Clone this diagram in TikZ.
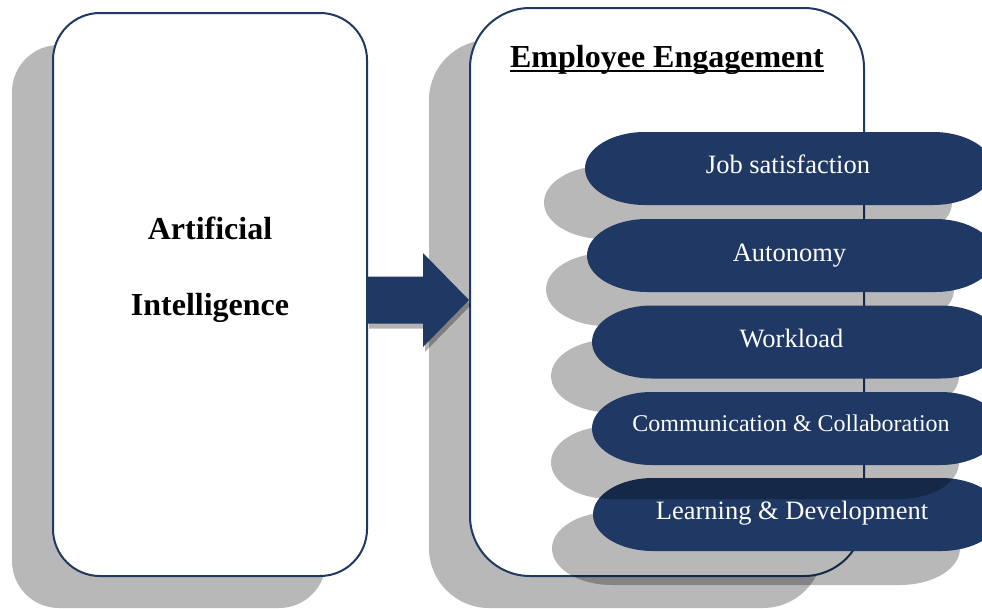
\documentclass[tikz,border=0pt]{standalone}
\usepackage{fontspec}
\setmainfont{Liberation Serif}
\usetikzlibrary{calc,shadows}

\definecolor{navy}{RGB}{31,56,100}
\definecolor{boxshade}{RGB}{184,184,184}

% pill outline with elliptical ends, continued from its left-middle point
\newcommand{\pillcurve}{arc[start angle=180,end angle=90,x radius=60pt,y radius=36.5pt]
  -- ++(288,0) arc[start angle=90,end angle=-90,x radius=60pt,y radius=36.5pt]
  -- ++(-288,0) arc[start angle=270,end angle=180,x radius=60pt,y radius=36.5pt] -- cycle}

% block arrow from the tail point to the tip point
\newcommand{\arrowpath}{(tail) ++(0,-23.5) -- ++(56,0) -- ++(0,-23.5) -- (tip)
  -- ($(tail)+(56,47)$) -- ++(0,-23.5) -- ($(tail)+(0,23.5)$) -- cycle}

\begin{document}
\begin{tikzpicture}[x=1pt,y=-1pt,
  boxstyle/.style={draw=navy, line width=2pt, fill=white, rounded corners=#1,
    outer sep=0pt, inner sep=0pt,
    drop shadow={shadow xshift=-41pt, shadow yshift=-32pt, fill=boxshade, opacity=1}},
  headtext/.style={font=\fontsize{32}{38}\selectfont\bfseries, inner sep=0pt, anchor=base},
  pillfill/.style={fill=navy},
  pillshade/.style={fill=black, fill opacity=0.28},
  pilltext/.style={font=\fontsize{26.5}{30}\selectfont, text=white, inner sep=0pt, anchor=base}]

\fill[white] (0,0) rectangle (982,608);
\useasboundingbox (0,0) rectangle (982,608);
\clip (0,0) rectangle (982,608);

% the two frames
\node[boxstyle=47pt, minimum width=314pt, minimum height=563pt] (ai) at (210,294.5) {};
\node[boxstyle=60pt, minimum width=394pt, minimum height=568pt] (ee) at (667,292) {};

\node[headtext] (ai1) at (210,239) {Artificial};
\node[headtext] (ai2) at (210,315) {Intelligence};
\node[headtext] (ttl) at (667,67) {Employee Engagement};
\draw[line width=2.5pt] ($(ttl.base west)+(0,4)$) -- ($(ttl.base east)+(0,4)$);

% block arrow between the frames
\coordinate (tail) at (ai.east |- 0,300);
\coordinate (tip) at ($(ee.west |- tail)+(-1,0)$);
\fill[black, fill opacity=0.3, transform canvas={xshift=2pt,yshift=-5pt}] \arrowpath;
\fill[navy] \arrowpath;

% engagement factors
\fill[pillshade] (544,202.5) \pillcurve;
\fill[pillfill] (585,168.5) \pillcurve;
\node[pilltext] (p1) at (788,173) {Job satisfaction};

\fill[pillshade] (546,289.5) \pillcurve;
\fill[pillfill] (587,255.5) \pillcurve;
\node[pilltext] (p2) at (789.5,261) {Autonomy};

\fill[pillshade] (551,376) \pillcurve;
\fill[pillfill] (592,342) \pillcurve;
\node[pilltext] (p3) at (791.5,347) {Workload};

\fill[pillshade] (552,548.5) \pillcurve;
\fill[pillfill] (593,514.5) \pillcurve;

\fill[pillshade] (551,462.5) \pillcurve;
\fill[pillfill] (592,428.5) \pillcurve;
\node[pilltext, font=\fontsize{24}{28}\selectfont] (p4) at (791,431) {Communication \& Collaboration};
\node[pilltext] (p5) at (792,519) {Learning \& Development};

\end{tikzpicture}
\end{document}
